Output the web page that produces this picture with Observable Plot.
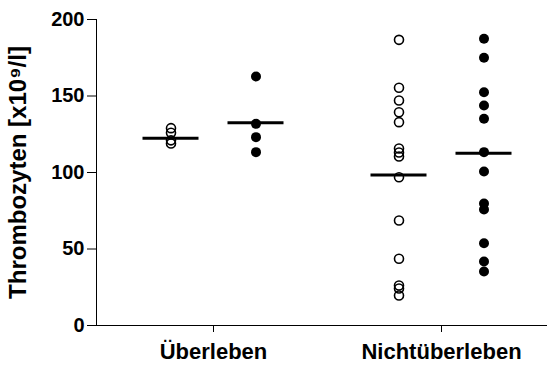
<!DOCTYPE html>
<html>
<head>
<meta charset="utf-8">
<script src="https://cdn.jsdelivr.net/npm/d3@7"></script>
<script src="https://cdn.jsdelivr.net/npm/@observablehq/plot@0.6"></script>
<style>
  html, body { margin: 0; padding: 0; background: #fff; }
  #chart svg { display: block; }
  #chart svg text { font-weight: bold; fill: black; }
  #chart g[aria-label="x-axis tick label"] { font-size: 22px; }
  #chart g[aria-label="y-axis tick label"] { font-size: 20px; }
  #chart g[aria-label="y-axis label"] { font-size: 24px; }
</style>
</head>
<body>
<div id="chart"></div>
<script>
const groups = ["Überleben", "Nichtüberleben"];
const yTicks = [0, 50, 100, 150, 200];
const yLabel = "Thrombozyten [x10⁹/l]";

// open circles (first column of each group)
const ueberlebenOpen = [129, 126, 121, 119];
const nichtOpen = [186.7, 155.4, 147.1, 139.4, 132.9, 115.7, 113.1, 110.5, 96.9, 68.6, 43.6, 26.1, 24.2, 19.6];
// filled circles (second column of each group)
const ueberlebenFilled = [162.7, 131.8, 123.1, 113.3];
const nichtFilled = [187.4, 175, 152.5, 143.8, 135.1, 113.3, 100.7, 79.7, 75.8, 53.8, 41.8, 35.3];
// horizontal mean lines [Überleben, Nichtüberleben]
const meanOpen = [122.4, 98.4];
const meanFilled = [132.5, 112.6];

const openRows = [
  ...ueberlebenOpen.map(v => ({group: groups[0], value: v})),
  ...nichtOpen.map(v => ({group: groups[1], value: v}))
];
const filledRows = [
  ...ueberlebenFilled.map(v => ({group: groups[0], value: v})),
  ...nichtFilled.map(v => ({group: groups[1], value: v}))
];
const meanOpenRows = groups.map((g, i) => ({group: g, value: meanOpen[i]}));
const meanFilledRows = groups.map((g, i) => ({group: g, value: meanFilled[i]}));

const off = 42.5;
const half = 28;

const chart = Plot.plot({
  width: 547,
  height: 365,
  marginLeft: 96,
  marginRight: 0,
  marginTop: 19,
  marginBottom: 40,
  style: {fontFamily: "'Liberation Sans', Arial, sans-serif", fontWeight: "bold", color: "black", background: "white"},
  x: {type: "point", domain: groups, range: [212.5, 441], padding: 0, line: true, tickSize: 7, tickPadding: 11, label: null},
  y: {domain: [0, 200], ticks: yTicks, tickSize: 9, tickPadding: 3, line: true, label: yLabel, labelAnchor: "center", labelOffset: 88, labelArrow: "none"},
  marks: [
    Plot.ruleY(meanOpenRows, {x1: "group", x2: "group", y: "value", dx: -off, insetLeft: -half, insetRight: -half, stroke: "black", strokeWidth: 3}),
    Plot.ruleY(meanFilledRows, {x1: "group", x2: "group", y: "value", dx: off, insetLeft: -half, insetRight: -half, stroke: "black", strokeWidth: 3}),
    Plot.dot(openRows, {x: "group", y: "value", dx: -off, r: 4.5, stroke: "black", strokeWidth: 1.6, fill: "none"}),
    Plot.dot(filledRows, {x: "group", y: "value", dx: off, r: 5, fill: "black"})
  ]
});
document.getElementById("chart").appendChild(chart);
</script>
</body>
</html>
